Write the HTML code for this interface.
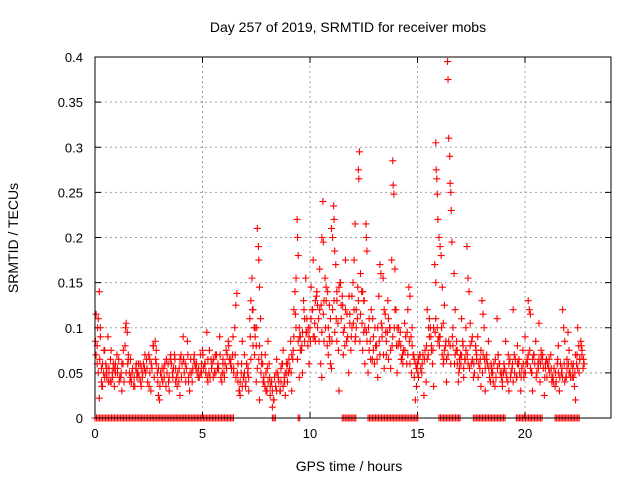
<!DOCTYPE html>
<html><head><meta charset="utf-8"><style>
html,body{margin:0;padding:0;background:#fff}
svg{display:block;font-family:"Liberation Sans",sans-serif}
</style></head><body>
<svg id="chart" width="640" height="480" xmlns="http://www.w3.org/2000/svg">
<text x="348" y="32" font-size="14" text-anchor="middle">Day 257 of 2019, SRMTID for receiver mobs</text>
<text transform="translate(18,238) rotate(-90)" font-size="14" text-anchor="middle">SRMTID / TECUs</text>
<text x="349" y="471" font-size="14" text-anchor="middle">GPS time / hours</text>
<g id="grid"></g>
<g id="ticks"></g>
<g id="marks"></g>
<rect x="95" y="57" width="516" height="361" fill="none" stroke="#000" stroke-width="1"/>
</svg>
<script>
const xTicks=[0,5,10,15,20];
const yTicks=[0,0.05,0.1,0.15,0.2,0.25,0.3,0.35,0.4];
const yTickLabels=["0","0.05","0.1","0.15","0.2","0.25","0.3","0.35","0.4"];
const hours=[0.05,0.1,0.15,0.2,0.25,0.3,0.35,0.4,0.45,0.5,0.55,0.6,0.65,0.7,0.75,0.8,0.85,0.9,0.95,0.2,0.1,0.3,
1.05,1.1,1.2,1.3,1.4,1.45,1.5,1.55,1.6,1.7,1.8,1.9,1.95,1.25,1.65,
2.0,2.1,2.2,2.3,2.4,2.5,2.6,2.7,2.8,2.85,2.9,2.95,2.15,2.55,
3.0,3.1,3.2,3.3,3.4,3.5,3.6,3.7,3.8,3.9,3.95,3.45,3.75,
4.0,4.1,4.2,4.3,4.4,4.5,4.6,4.7,4.8,4.9,4.95,4.35,
5.0,5.1,5.2,5.3,5.4,5.5,5.6,5.7,5.8,5.9,5.95,5.25,
6.0,6.1,6.2,6.3,6.4,6.5,6.55,6.6,6.65,6.7,6.8,6.9,6.95,6.75,6.45,6.85,
7.0,7.1,7.2,7.25,7.3,7.35,7.4,7.45,7.5,7.55,7.6,7.62,7.65,7.7,7.75,7.8,7.85,7.9,7.95,7.15,7.05,7.65,7.5,
8.0,8.05,8.1,8.2,8.25,8.3,8.4,8.5,8.6,8.7,8.75,8.8,8.85,8.9,8.95,8.15,8.45,8.65,
9.0,9.1,9.2,9.25,9.3,9.35,9.4,9.42,9.45,9.5,9.55,9.6,9.7,9.75,9.8,9.85,9.9,9.95,9.15,9.65,9.5,
10.0,10.05,10.1,10.15,10.2,10.3,10.35,10.4,10.45,10.5,10.55,10.6,10.62,10.65,10.7,10.75,10.8,10.85,10.9,10.95,10.25,10.55,10.9,
11.0,11.05,11.1,11.12,11.15,11.2,11.25,11.3,11.35,11.4,11.45,11.5,11.6,11.65,11.7,11.8,11.85,11.9,11.95,11.0,11.25,11.55,
12.0,12.05,12.1,12.15,12.2,12.25,12.27,12.3,12.35,12.4,12.45,12.5,12.55,12.6,12.62,12.65,12.7,12.75,12.8,12.9,12.95,12.1,12.5,
13.0,13.1,13.2,13.25,13.3,13.35,13.4,13.45,13.5,13.6,13.7,13.75,13.8,13.85,13.87,13.9,13.95,13.15,13.55,13.65,
14.0,14.1,14.2,14.3,14.4,14.5,14.55,14.6,14.65,14.7,14.8,14.85,14.9,14.95,14.05,14.25,14.75,
15.0,15.1,15.2,15.3,15.4,15.5,15.55,15.6,15.65,15.7,15.75,15.8,15.85,15.87,15.9,15.92,15.95,16.0,15.05,15.45,15.85,
16.05,16.1,16.15,16.2,16.25,16.3,16.35,16.4,16.42,16.45,16.5,16.52,16.55,16.57,16.6,16.7,16.75,16.8,16.85,16.9,16.95,16.2,16.65,16.0,
17.0,17.05,17.1,17.2,17.25,17.3,17.35,17.4,17.45,17.5,17.6,17.7,17.75,17.8,17.9,17.95,17.15,17.55,
18.0,18.05,18.1,18.2,18.3,18.4,18.5,18.6,18.7,18.8,18.9,18.95,18.15,18.45,18.75,
19.0,19.1,19.2,19.3,19.4,19.45,19.5,19.6,19.7,19.8,19.9,19.95,19.25,19.65,
20.0,20.1,20.15,20.2,20.25,20.3,20.4,20.5,20.6,20.65,20.7,20.8,20.9,20.95,20.35,20.75,
21.0,21.1,21.2,21.3,21.4,21.5,21.6,21.7,21.75,21.8,21.85,21.9,21.95,21.25,21.55,
22.0,22.05,22.1,22.2,22.3,22.35,22.4,22.5,22.55,22.6,22.65,22.7,22.45,22.25];
const srmtid=[0.115,0.08,0.11,0.14,0.10,0.055,0.035,0.05,0.075,0.06,0.045,0.09,0.055,0.04,0.075,0.05,0.055,0.035,0.06,0.022,0.06,0.04,
0.05,0.065,0.045,0.06,0.08,0.105,0.095,0.07,0.05,0.04,0.035,0.055,0.045,0.03,0.065,
0.05,0.06,0.045,0.055,0.065,0.07,0.03,0.08,0.085,0.06,0.05,0.025,0.035,0.05,
0.02,0.045,0.055,0.035,0.06,0.065,0.05,0.07,0.045,0.04,0.025,0.03,0.055,
0.07,0.09,0.06,0.085,0.03,0.05,0.065,0.055,0.045,0.07,0.05,0.04,
0.075,0.06,0.095,0.05,0.065,0.045,0.07,0.055,0.09,0.04,0.06,0.04,
0.05,0.075,0.085,0.06,0.07,0.1,0.125,0.138,0.04,0.03,0.05,0.045,0.07,0.025,0.055,0.085,
0.035,0.05,0.11,0.13,0.155,0.12,0.1,0.09,0.08,0.21,0.19,0.175,0.145,0.11,0.07,0.06,0.04,0.035,0.05,0.03,0.06,0.02,0.04,
0.03,0.085,0.06,0.04,0.012,0.02,0.035,0.05,0.03,0.06,0.075,0.045,0.025,0.06,0.04,0.025,0.065,0.04,
0.05,0.085,0.065,0.12,0.14,0.155,0.22,0.2,0.18,0.1,0.09,0.075,0.13,0.11,0.155,0.095,0.08,0.06,0.03,0.05,0.045,
0.1,0.145,0.12,0.175,0.09,0.135,0.125,0.11,0.165,0.06,0.2,0.24,0.195,0.13,0.155,0.145,0.08,0.07,0.09,0.06,0.085,0.045,0.125,
0.21,0.2,0.235,0.22,0.185,0.17,0.14,0.105,0.03,0.15,0.125,0.135,0.1,0.175,0.085,0.05,0.115,0.075,0.135,0.055,0.085,0.07,
0.15,0.175,0.215,0.12,0.11,0.275,0.265,0.295,0.16,0.14,0.075,0.095,0.06,0.215,0.2,0.185,0.05,0.11,0.085,0.065,0.075,0.085,0.13,
0.06,0.08,0.135,0.17,0.16,0.1,0.155,0.055,0.115,0.095,0.1,0.055,0.175,0.285,0.258,0.248,0.165,0.045,0.07,0.065,
0.12,0.08,0.095,0.07,0.105,0.06,0.12,0.145,0.135,0.09,0.07,0.045,0.02,0.035,0.05,0.065,0.1,
0.06,0.07,0.05,0.025,0.04,0.07,0.11,0.1,0.08,0.06,0.035,0.17,0.305,0.275,0.265,0.248,0.22,0.2,0.045,0.12,0.15,
0.19,0.18,0.145,0.105,0.125,0.08,0.04,0.395,0.375,0.31,0.29,0.26,0.25,0.23,0.195,0.16,0.12,0.075,0.06,0.04,0.055,0.06,0.08,0.09,
0.07,0.11,0.085,0.065,0.1,0.19,0.155,0.14,0.105,0.06,0.045,0.08,0.065,0.09,0.055,0.035,0.045,0.09,
0.13,0.115,0.1,0.065,0.085,0.04,0.05,0.035,0.11,0.06,0.045,0.035,0.03,0.055,0.07,
0.05,0.085,0.04,0.065,0.055,0.12,0.07,0.045,0.06,0.03,0.075,0.05,0.03,0.08,
0.09,0.065,0.13,0.12,0.115,0.05,0.07,0.085,0.06,0.105,0.04,0.065,0.025,0.055,0.03,0.075,
0.065,0.055,0.07,0.045,0.035,0.06,0.03,0.05,0.12,0.1,0.085,0.045,0.065,0.04,0.08,
0.095,0.075,0.05,0.045,0.035,0.02,0.06,0.08,0.065,0.085,0.07,0.055,0.1,0.06];
// band samples: 10 per hour, rows indexed by hour
const bandA=[
[0.07,0.05,0.09,0.06,0.045,0.055,0.05,0.04,0.06,0.05],
[0.055,0.045,0.06,0.04,0.05,0.065,0.045,0.055,0.035,0.05],
[0.045,0.055,0.06,0.05,0.04,0.065,0.055,0.045,0.075,0.055],
[0.05,0.04,0.06,0.05,0.045,0.06,0.055,0.04,0.05,0.065],
[0.06,0.05,0.055,0.045,0.065,0.055,0.06,0.05,0.045,0.06],
[0.055,0.05,0.065,0.045,0.06,0.05,0.07,0.055,0.045,0.065],
[0.06,0.07,0.065,0.055,0.05,0.045,0.06,0.04,0.035,0.05],
[0.06,0.045,0.065,0.08,0.1,0.055,0.08,0.06,0.045,0.03],
[0.04,0.035,0.03,0.045,0.03,0.04,0.055,0.035,0.05,0.06],
[0.055,0.07,0.09,0.1,0.085,0.075,0.095,0.085,0.11,0.09],
[0.11,0.09,0.13,0.1,0.12,0.095,0.085,0.13,0.1,0.11],
[0.12,0.095,0.13,0.145,0.11,0.095,0.12,0.09,0.105,0.1],
[0.12,0.1,0.13,0.115,0.14,0.1,0.085,0.075,0.12,0.09],
[0.08,0.1,0.07,0.09,0.12,0.085,0.11,0.075,0.09,0.12],
[0.1,0.085,0.065,0.075,0.09,0.07,0.06,0.08,0.065,0.055],
[0.065,0.055,0.07,0.075,0.065,0.09,0.075,0.1,0.11,0.085],
[0.09,0.07,0.075,0.065,0.085,0.06,0.1,0.07,0.075,0.065],
[0.07,0.055,0.075,0.06,0.08,0.065,0.05,0.07,0.06,0.075],
[0.07,0.055,0.06,0.045,0.05,0.06,0.045,0.07,0.05,0.04],
[0.055,0.045,0.06,0.05,0.04,0.065,0.06,0.05,0.055,0.045],
[0.06,0.07,0.055,0.065,0.06,0.05,0.065,0.07,0.055,0.06],
[0.06,0.05,0.045,0.055,0.04,0.05,0.06,0.045,0.04,0.055],
[0.05,0.06,0.045,0.07,0.055,0.065,0.075,0.06]];
const bandB=[
[0.085,0.1,0.065,0.035,0.075,0.05,0.04,0.065,0.045,0.055],
[0.07,0.04,0.05,0.075,0.1,0.06,0.04,0.05,0.045,0.06],
[0.06,0.04,0.05,0.07,0.055,0.035,0.06,0.08,0.065,0.04],
[0.035,0.055,0.045,0.065,0.04,0.07,0.045,0.065,0.035,0.055],
[0.045,0.065,0.04,0.07,0.05,0.04,0.07,0.06,0.055,0.05],
[0.07,0.06,0.045,0.075,0.055,0.065,0.05,0.06,0.07,0.05],
[0.045,0.055,0.08,0.065,0.09,0.07,0.05,0.03,0.06,0.045],
[0.04,0.055,0.09,0.12,0.07,0.1,0.065,0.05,0.04,0.07],
[0.055,0.045,0.04,0.02,0.05,0.045,0.03,0.06,0.04,0.05],
[0.065,0.05,0.075,0.115,0.065,0.09,0.08,0.12,0.095,0.1],
[0.085,0.12,0.105,0.14,0.085,0.125,0.115,0.1,0.14,0.085],
[0.085,0.13,0.11,0.075,0.15,0.125,0.08,0.115,0.135,0.09],
[0.105,0.09,0.145,0.085,0.105,0.13,0.095,0.1,0.065,0.11],
[0.1,0.065,0.085,0.105,0.07,0.095,0.13,0.1,0.08,0.1],
[0.08,0.1,0.08,0.06,0.075,0.095,0.085,0.05,0.07,0.06],
[0.05,0.07,0.06,0.065,0.08,0.1,0.09,0.075,0.095,0.1],
[0.08,0.1,0.065,0.085,0.07,0.08,0.09,0.06,0.085,0.05],
[0.06,0.08,0.065,0.07,0.055,0.085,0.06,0.075,0.045,0.065],
[0.05,0.065,0.07,0.055,0.06,0.04,0.065,0.055,0.06,0.05],
[0.06,0.05,0.07,0.045,0.06,0.05,0.045,0.065,0.045,0.06],
[0.05,0.06,0.075,0.05,0.07,0.045,0.055,0.06,0.07,0.045],
[0.045,0.065,0.055,0.04,0.05,0.065,0.045,0.055,0.06,0.045],
[0.06,0.045,0.055,0.05,0.07,0.05,0.08,0.065]];
const zeroStart=[0,8.25,9.45,11.5,12.7,16.0,17.6,19.6,21.4];
const zeroEnd=[6.5,8.4,9.55,12.2,15.05,17.05,19.1,20.85,22.55];
const X0=95,X1=611,Y0=418,Y1=57;
function xs(v){return X0+(X1-X0)*v/24;}
function ys(v){return Y0-(Y0-Y1)*v/0.4;}
const NS="http://www.w3.org/2000/svg";
const grid=document.getElementById('grid'),ticks=document.getElementById('ticks'),marks=document.getElementById('marks');
function mk(tag,attrs,parent){const e=document.createElementNS(NS,tag);for(const k in attrs)e.setAttribute(k,attrs[k]);parent.appendChild(e);return e;}
xTicks.forEach(t=>{const x=xs(t);
 if(t>0){const g=mk('line',{x1:x,x2:x,y1:Y0,y2:Y1,stroke:'#a0a0a0','stroke-dasharray':'2,3','stroke-width':1},grid);
 
 }
 mk('line',{x1:x,x2:x,y1:Y0,y2:Y0-6,stroke:'#000'},ticks);
 mk('line',{x1:x,x2:x,y1:Y1,y2:Y1+6,stroke:'#000'},ticks);
 const l=mk('text',{x:x,y:Y0+20,'font-size':13,'text-anchor':'middle'},ticks);l.textContent=String(t);
 
 
});
yTicks.forEach((t,i)=>{const y=ys(t);
 if(t>0&&t<0.4){const g=mk('line',{x1:X0,x2:X1,y1:y,y2:y,stroke:'#a0a0a0','stroke-dasharray':'2,3','stroke-width':1},grid);
 
 }
 mk('line',{x1:X0,x2:X0+6,y1:y,y2:y,stroke:'#000'},ticks);
 mk('line',{x1:X1,x2:X1-6,y1:y,y2:y,stroke:'#000'},ticks);
 const l=mk('text',{x:X0-12,y:y+5,'font-size':13,'text-anchor':'end'},ticks);l.textContent=yTickLabels[i];
 
 
});
function plus(x,y){const p=mk('path',{d:`M${x-3.5},${y}H${x+3.5}M${x},${y-3.5}V${y+3.5}`,stroke:'#f00','stroke-width':1.1,fill:'none'},marks);
 
 }
hours.forEach((h,i)=>plus(xs(h),ys(srmtid[i])));
bandA.forEach((row,h)=>row.forEach((v,i)=>plus(xs(h+(i+0.5)/10),ys(v))));
bandB.forEach((row,h)=>row.forEach((v,i)=>plus(xs(h+(i+0.0)/10+0.02),ys(v))));
zeroStart.forEach((s,k)=>{for(let h=s;h<=zeroEnd[k];h+=0.07)plus(xs(h),ys(0));});
</script>
</body></html>
